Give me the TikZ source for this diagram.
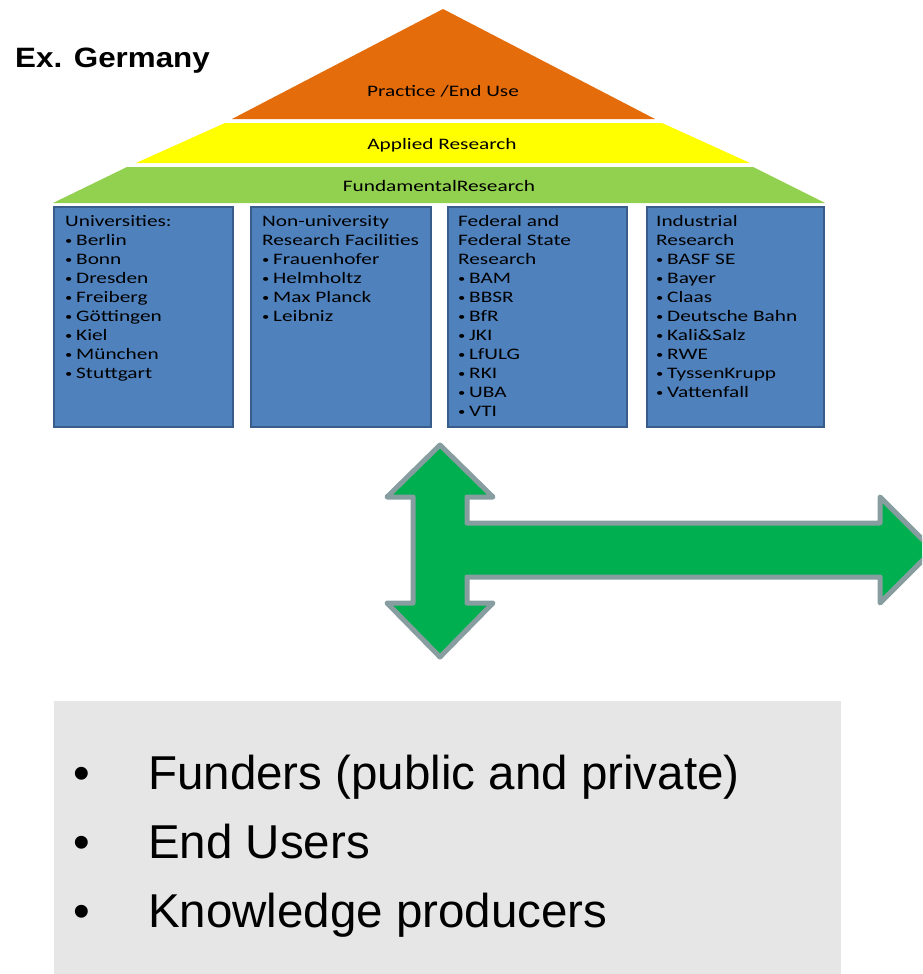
\documentclass[tikz,border=0pt]{standalone}
\usepackage{fontspec}
\setmainfont{Carlito}
\newfontfamily\boxfont[FakeStretch=1.33]{Carlito}
\newfontfamily\titlefont[FakeStretch=1.12]{Liberation Sans}
\newfontfamily\listfont{Liberation Sans}
\definecolor{roofor}{HTML}{E46C0A}
\definecolor{roofye}{HTML}{FFFF00}
\definecolor{roofgr}{HTML}{92D050}
\definecolor{boxbl}{HTML}{4F81BD}
\definecolor{boxbd}{HTML}{385D8A}
\definecolor{arrgr}{HTML}{00B050}
\definecolor{arrbd}{HTML}{879D9F}
\definecolor{panelgr}{HTML}{E6E6E6}
\newcommand{\bul}{\makebox[11pt][l]{\raisebox{0.5pt}{\fontsize{11}{11}\selectfont •}}}
\tikzset{
  pillar/.style={fill=boxbl, draw=boxbd, line width=1.5pt},
  pillartext/.style={anchor=base west, inner sep=0pt, align=left, text=black,
    font=\boxfont\fontsize{16}{19}\selectfont},
  rooftext/.style={anchor=base, inner sep=0pt, text=black,
    font=\boxfont\fontsize{16}{19}\selectfont},
  bigarrow/.style={fill=arrgr, draw=arrbd, line width=5pt, line join=round},
  listtext/.style={anchor=base west, inner sep=0pt, text=black,
    font=\listfont\fontsize{47.5}{56}\selectfont},
  listbul/.style={anchor=base, inner sep=0pt, text=black,
    font=\listfont\fontsize{47.5}{56}\selectfont}
}
\begin{document}
\begin{tikzpicture}[x=1pt, y=-1pt]
\clip (0,0) rectangle (922,974);
\fill[white] (0,0) rectangle (922,974);

% title
\node[anchor=base west, inner sep=0pt, font=\titlefont\bfseries\fontsize{28}{32}\selectfont] (title) at (15,67) {Ex. Germany};

% roof
\fill[roofor] (443,9) -- (655,119) -- (232,119) -- cycle;
\fill[roofye] (225,123) -- (662,123) -- (750,163) -- (136,163) -- cycle;
\fill[roofgr] (127,167) -- (753,167) -- (825,203) -- (53,203) -- cycle;
\node[rooftext] (practice) at (443,96) {Practice /End Use};
\node[rooftext] (applied) at (442,149) {Applied Research};
\node[rooftext] (fundamental) at (439,191) {FundamentalResearch};

% pillars
\draw[pillar] (54,207) rectangle (233,427);
\draw[pillar] (251,207) rectangle (431,427);
\draw[pillar] (448,207) rectangle (627,427);
\draw[pillar] (647,207) rectangle (824,427);

% anchor = baseline of the last line (first baseline at y = 226, pitch 19)
\node[pillartext] (uni) at (65,378) {Universities:\\ \bul Berlin\\ \bul Bonn\\ \bul Dresden\\ \bul Freiberg\\ \bul Göttingen\\ \bul Kiel\\ \bul München\\ \bul Stuttgart};
\node[pillartext] (nonuni) at (262,321) {Non-university\\ Research Facilities\\ \bul Frauenhofer\\ \bul Helmholtz\\ \bul Max Planck\\ \bul Leibniz};
\node[pillartext] (fed) at (458,416) {Federal and\\ Federal State\\ Research\\ \bul BAM\\ \bul BBSR\\ \bul BfR\\ \bul JKI\\ \bul LfULG\\ \bul RKI\\ \bul UBA\\ \bul VTI};
\node[pillartext] (ind) at (656,397) {Industrial\\ Research\\ \bul BASF SE\\ \bul Bayer\\ \bul Claas\\ \bul Deutsche Bahn\\ \bul Kali\&Salz\\ \bul RWE\\ \bul TyssenKrupp\\ \bul Vattenfall};

% arrow
\draw[bigarrow] (440,445) -- (493,497) -- (467,497) -- (467,523) -- (880,523) -- (880,497)
  -- (933,550) -- (880,603) -- (880,577) -- (467,577) -- (467,603) -- (493,603)
  -- (440,657) -- (387,603) -- (413,603) -- (413,497) -- (387,497) -- cycle;

% bottom panel
\fill[panelgr] (54,701) rectangle (841,980);
\node[listbul] (b1) at (82,789) {•};
\node[listbul] (b2) at (82,858) {•};
\node[listbul] (b3) at (82,927) {•};
\node[listtext] (l1) at (148,789) {Funders (public and private)};
\node[listtext] (l2) at (148,858) {End Users};
\node[listtext] (l3) at (148,927) {Knowledge producers};
\end{tikzpicture}
\end{document}
